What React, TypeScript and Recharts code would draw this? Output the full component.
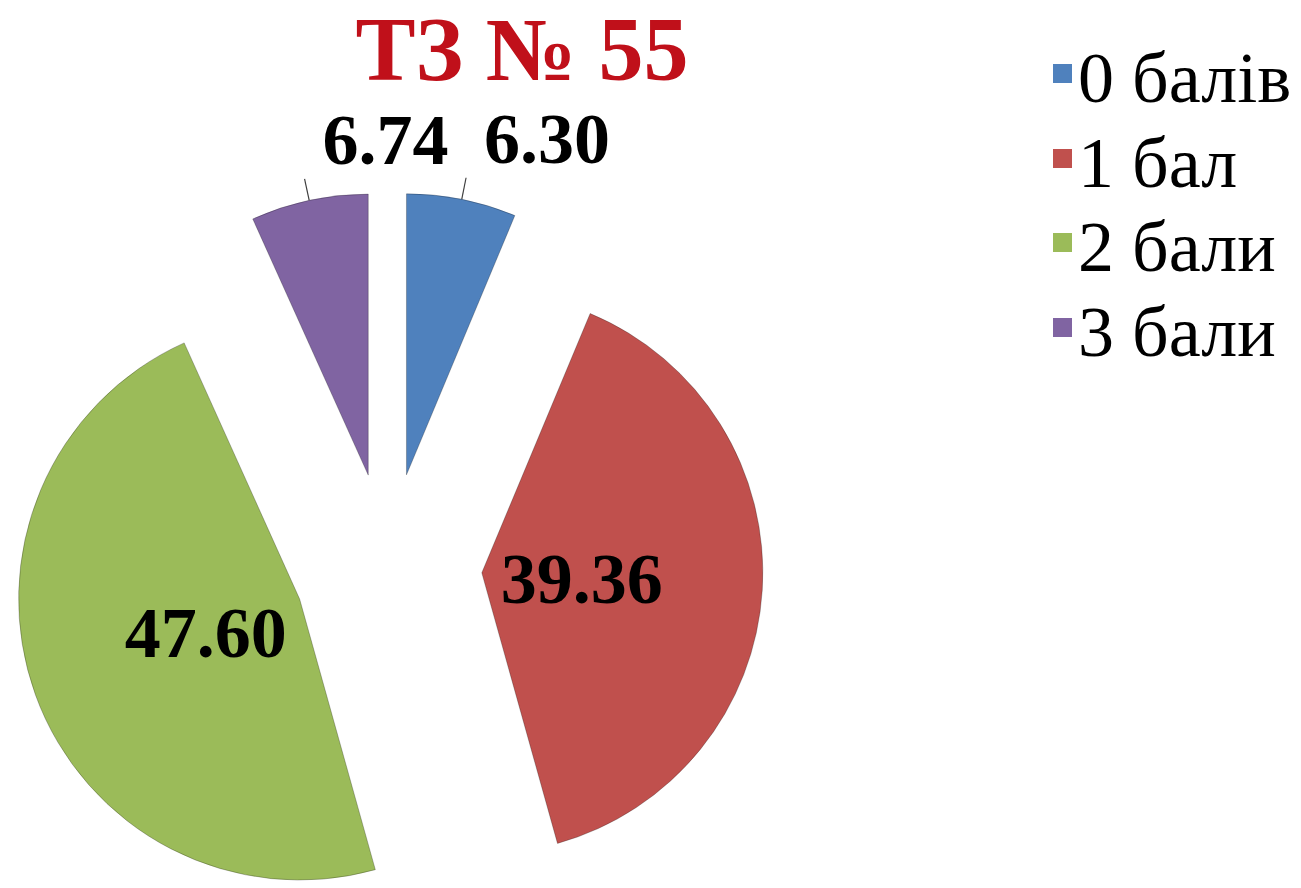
import React from "react";
import { PieChart, Pie, Cell, Sector, Legend } from "recharts";

const CATEGORIES = ["0 балів", "1 бал", "2 бали", "3 бали"];
const VALUES = [6.3, 39.36, 47.6, 6.74];
const COLORS = ["#4F81BD", "#C0504D", "#9BBB59", "#8064A2"];
const TITLE = "ТЗ № 55";

const data = CATEGORIES.map((name, i) => ({ name, value: VALUES[i] }));

const SERIF = '"Liberation Serif", "Times New Roman", serif';
const EXPLODE = 94;
const RAD = Math.PI / 180;

const renderSector = (props: any) => {
  const { cx, cy, midAngle } = props;
  const a = -midAngle * RAD;
  return (
    <Sector
      {...props}
      cx={cx + EXPLODE * Math.cos(a)}
      cy={cy + EXPLODE * Math.sin(a)}
    />
  );
};

const renderLabel = (props: any) => {
  const { cx, cy, midAngle, outerRadius, value } = props;
  const a = -midAngle * RAD;
  const cos = Math.cos(a);
  const sin = Math.sin(a);
  const text = Number(value).toFixed(2);

  if (value < 10) {
    // small slices: label outside with a short leader line
    const r1 = EXPLODE + outerRadius;
    const r2 = r1 + 22;
    const x1 = cx + r1 * cos;
    const y1 = cy + r1 * sin;
    const x2 = cx + r2 * cos;
    const y2 = cy + r2 * sin;
    return (
      <g>
        <line x1={x1} y1={y1} x2={x2} y2={y2} stroke="#404040" strokeWidth={1.2} />
        <text
          x={x2 + 18}
          y={y2 - 15}
          textAnchor="start"
          fontFamily={SERIF}
          fontWeight="bold"
          fontSize={72}
          fill="#000"
        >
          {text}
        </text>
      </g>
    );
  }

  const r = EXPLODE + 100;
  return (
    <text
      x={cx + r * cos}
      y={cy + r * sin + 24}
      textAnchor="middle"
      fontFamily={SERIF}
      fontWeight="bold"
      fontSize={72}
      fill="#000"
    >
      {text}
    </text>
  );
};

const renderLegend = (props: any) => {
  const { payload } = props;
  return (
    <div style={{ fontFamily: SERIF, fontSize: 72, color: "#000" }}>
      {payload.map((entry: any) => (
        <div
          key={entry.value}
          style={{
            height: 84.5,
            lineHeight: "84px",
            whiteSpace: "nowrap",
            position: "relative",
            paddingLeft: 25,
          }}
        >
          <span
            style={{
              position: "absolute",
              left: 0,
              top: 28,
              width: 19,
              height: 19,
              background: entry.color,
            }}
          />
          {entry.value}
        </div>
      ))}
    </div>
  );
};

export default function App() {
  return (
    <div style={{ position: "absolute", left: 0, top: 0, width: 1301, height: 888, background: "#fff", overflow: "hidden" }}>
      <svg
        width={1301}
        height={100}
        style={{ position: "absolute", left: 0, top: 0, zIndex: 1 }}
      >
        <text
          x={522}
          y={80}
          textAnchor="middle"
          fontFamily={SERIF}
          fontWeight="bold"
          fontSize={90}
          fill="#C0101A"
        >
          {TITLE}
        </text>
      </svg>
      <PieChart width={1301} height={888} margin={{ top: 0, right: 0, bottom: 0, left: 0 }}>
        <Pie
          data={data}
          dataKey="value"
          nameKey="name"
          cx={388}
          cy={567}
          outerRadius={281}
          startAngle={90}
          endAngle={-270}
          stroke="rgba(0,0,0,0.25)"
          strokeWidth={1}
          shape={renderSector}
          label={renderLabel}
          labelLine={false}
          isAnimationActive={false}
        >
          {data.map((_, idx) => (
            <Cell key={idx} fill={COLORS[idx % COLORS.length]} />
          ))}
        </Pie>
        <Legend
          layout="vertical"
          align="right"
          verticalAlign="top"
          content={renderLegend}
          wrapperStyle={{ position: "absolute", left: 1053, top: 36, width: 260 }}
        />
      </PieChart>
    </div>
  );
}
